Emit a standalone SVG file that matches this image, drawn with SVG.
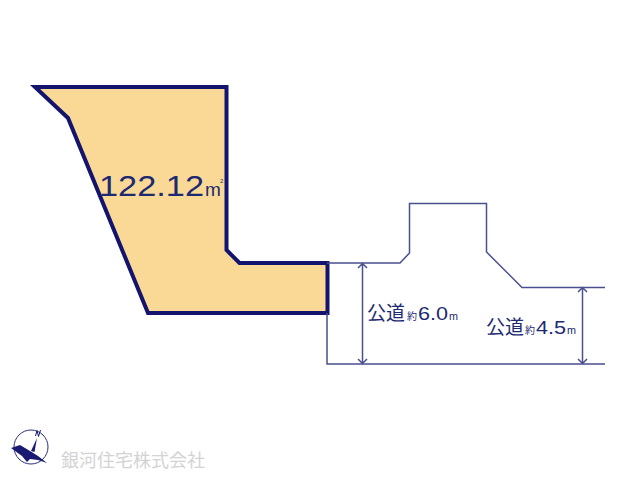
<svg xmlns="http://www.w3.org/2000/svg" width="640" height="480" viewBox="0 0 640 480">
<style>
text{font-family:"Liberation Sans","Noto Sans CJK JP",sans-serif;fill:#1d2a72}
.road{fill:none;stroke:#4a4f8f;stroke-width:1.5}
.cjk{font-family:"Noto Sans CJK JP",sans-serif}
</style>
<rect width="640" height="480" fill="#fff"/>
<g id="lot">
<path d="M35 87H226.500V250L239.500 263H327.500V313H148L68 118Z" fill="#f9d995" stroke="#14146e" stroke-width="4"/>
<text x="99" y="196" font-size="29" textLength="105" lengthAdjust="spacingAndGlyphs">122.12</text>
<text x="205" y="196" font-size="19">m<tspan x="220" dy="-13" font-size="6">2</tspan></text>
</g>
<g id="connectors">
<path class="road" d="M327 263H400L409.500 253V203.500H486.500V252L522 287.500H605"/>
<path class="road" d="M327 313V364H605"/>
<path class="road" d="M362.500 264V363M358 268L362.500 263.500L367 268M358 359L362.500 363.500L367 359"/>
<path class="road" d="M582.500 288V363M578 292L582.500 287.500L587 292M578 359L582.500 363.500L587 359"/>
</g>
<g id="label-road-6">
<text class="cjk" x="367" y="320" font-size="19">公道</text>
<text class="cjk" x="407" y="320" font-size="10">約</text>
<text x="418" y="320" font-size="19" textLength="30" lengthAdjust="spacingAndGlyphs">6.0</text>
<text x="449" y="320" font-size="10" textLength="9" lengthAdjust="spacingAndGlyphs">m</text>
</g>
<g id="label-road-4-5">
<text class="cjk" x="486" y="334" font-size="19">公道</text>
<text class="cjk" x="525" y="334" font-size="10">約</text>
<text x="536" y="334" font-size="19" textLength="30" lengthAdjust="spacingAndGlyphs">4.5</text>
<text x="567" y="334" font-size="10" textLength="9" lengthAdjust="spacingAndGlyphs">m</text>
</g>
<g id="compass">
<circle cx="31" cy="447" r="17" fill="none" stroke="#2a2f7f" stroke-width="1"/>
<path d="M37 438L34.500 452L31 451Z" fill="#1a1a72"/>
<path d="M35.500 436L37 430.500L38.500 436.500L40.500 430" stroke="#1a1a72" fill="none"/>
<path d="M11 448L20 445L30 451L38 456L47 463L38 460L30 459L27 462L22 456Z" fill="#1a1a72"/>
</g>
<g id="brand">
<text class="cjk" x="61" y="467" font-size="18" style="fill:#d3d3d3">銀河住宅株式会社</text>
</g>
</svg>
